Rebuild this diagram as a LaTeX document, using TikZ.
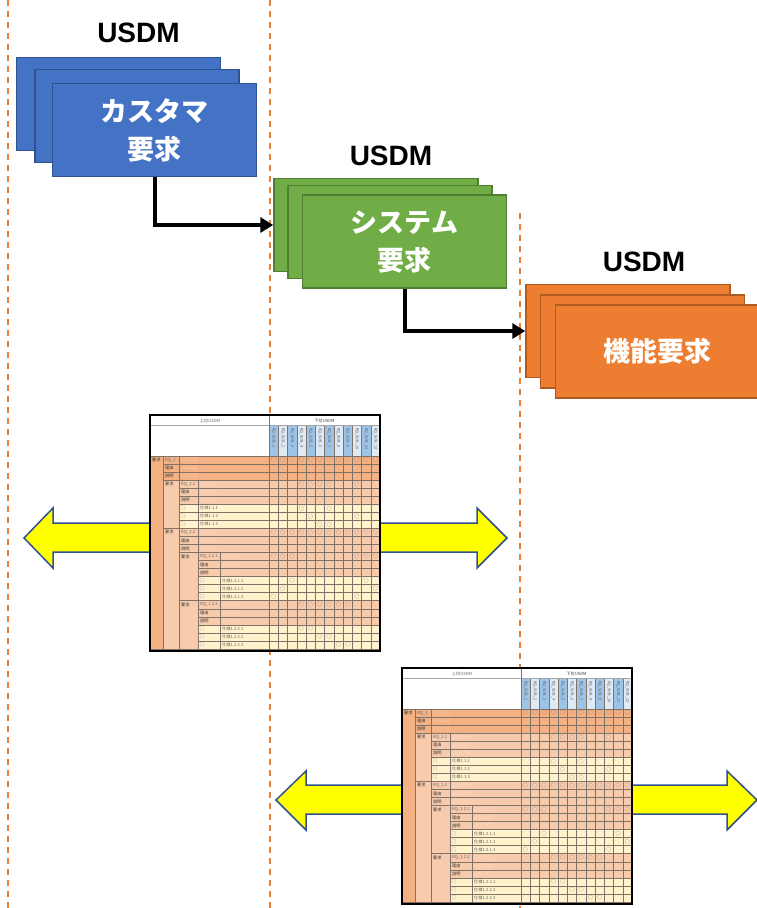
\documentclass[tikz,border=0pt]{standalone}
\usepackage{fontspec}
\setmainfont{Noto Sans CJK JP}
\newfontfamily\usdmfont{Liberation Sans}
\usetikzlibrary{arrows.meta}
\definecolor{dashc}{HTML}{ED7D31}
\definecolor{blueF}{HTML}{4472C4}
\definecolor{blueD}{HTML}{2F528F}
\definecolor{greenF}{HTML}{70AD47}
\definecolor{greenD}{HTML}{507E32}
\definecolor{orangeF}{HTML}{ED7D31}
\definecolor{orangeD}{HTML}{AE5A21}
\definecolor{lvA}{HTML}{F4B183}
\definecolor{lvB}{HTML}{F8CBAD}
\definecolor{lvY}{HTML}{FFF2CC}
\definecolor{hdM}{HTML}{9DC3E6}
\definecolor{hdL}{HTML}{DEEBF7}
\definecolor{yel}{HTML}{FFFF00}
\definecolor{tl}{HTML}{7F7367}
\definecolor{symc}{HTML}{FFF4EC}
\colorlet{labc}{black!80}
\colorlet{idc}{black!60}
\tikzset{
  stackbox/.style={rectangle, minimum width=204pt, minimum height=93pt, line width=1.5pt, inner sep=0pt},
  bluebox/.style={stackbox, fill=blueF, draw=blueD},
  greenbox/.style={stackbox, fill=greenF, draw=greenD},
  orangebox/.style={stackbox, fill=orangeF, draw=orangeD},
  boxtext/.style={text=white, font=\fontsize{27}{38}\selectfont\bfseries, align=center},
  usdmlabel/.style={font=\usdmfont\fontsize{28}{30}\selectfont\bfseries, inner sep=0pt},
  conn/.style={line width=4pt, draw=black, -{Triangle[length=13pt,width=15pt]}},
  guide/.style={draw=dashc, line width=1.5pt, dash pattern=on 6pt off 5pt},
  blockarrow/.style={fill=yel, draw=blueD, line width=1.5pt, line join=miter},
  tframe/.style={draw=black, line width=2pt},
  ttx/.style={font=\fontsize{4.2}{5}\selectfont, inner sep=0pt, anchor=west},
  circ/.style={font=\fontsize{5}{5}\selectfont, inner sep=0pt, anchor=center, text=black!60},
  tline/.style={draw=tl, line width=0.5pt},
}
\newcommand\usdmtable[2]{%
\begin{scope}[shift={#2}]
  \fill[white] (0,0) rectangle (230,41);
  \node[ttx, anchor=center, text=black!60] (#1-h1) at (60,6) {上位USDM};
  \node[ttx, anchor=center, text=black!75] (#1-h2) at (174.5,6) {下位USDM};
  \foreach \i in {1,...,12} {
    \pgfmathsetmacro\xa{119+(\i-1)*9.25}
    \pgfmathtruncatemacro\odd{mod(\i,2)}
    \ifnum\odd=1 \def\hc{hdM}\else\def\hc{hdL}\fi
    \fill[\hc] (\xa,11) rectangle ({\xa+9.25},41);
    \node[ttx, rotate=-90, text=black!65, font=\fontsize{3.8}{4}\selectfont] (#1-s\i) at ({\xa+4.6},13) {RQ\_SUB\_\i};
  }
  \begin{scope}[shift={(0,41)}, y=-8.04pt]
    \fill[lvA] (0,0) rectangle (230,3);
    \fill[lvA] (0,3) rectangle (13,24);
    \fill[lvB] (13,3) rectangle (29,24);
    \fill[lvB] (29,3) rectangle (230,6);
    \fill[lvY] (29,6) rectangle (230,9);
    \fill[lvB] (29,9) rectangle (230,12);
    \fill[lvB] (29,12) rectangle (48,24);
    \fill[lvB] (48,12) rectangle (230,15);
    \fill[lvY] (48,15) rectangle (230,18);
    \fill[lvB] (48,18) rectangle (230,21);
    \fill[lvY] (48,21) rectangle (230,24);
    \foreach \k/\xs in {0/0,1/13,2/13,3/13,4/29,5/29,6/29,7/29,8/29,9/13,10/29,11/29,12/29,
                        13/48,14/48,15/48,16/48,17/48,18/29,19/48,20/48,21/48,22/48,23/48,24/0}
      \draw[tline] (\xs,\k) -- (230,\k);
    \draw[tline] (13,0) -- (13,24);
    \draw[tline] (29,0) -- (29,24);
    \draw[tline] (48,3) -- (48,24);
    \draw[tline] (70,12) -- (70,24);
    \foreach \rw/\xp/\tx/\cl in {
      1/1/要求/labc, 1/14/RQ\_1/idc, 1/30/○○○○/symc,
      2/14/理由/labc, 2/30/△△△△/symc,
      3/14/説明/labc, 3/30/○○○○/symc,
      4/14/要求/labc, 4/30/RQ\_1.1/idc, 4/49/○○○○/symc,
      5/30/理由/labc, 5/49/△△△△/symc,
      6/30/説明/labc, 6/49/○○○○/symc,
      7/30/□/idc, 7/49/仕様1.1.1/idc,
      8/30/□/idc, 8/49/仕様1.1.2/idc,
      9/30/□/idc, 9/49/仕様1.1.3/idc,
      10/14/要求/labc, 10/30/RQ\_1.2/idc, 10/49/○○○○/symc,
      11/30/理由/labc, 11/49/△△△△/symc,
      12/30/説明/labc, 12/49/○○○○/symc,
      13/30/要求/labc, 13/49/RQ\_1.2.1/idc, 13/71/○○○○/symc,
      14/49/理由/labc, 14/71/△△△△/symc,
      15/49/説明/labc, 15/71/○○○○/symc,
      16/49/□/idc, 16/71/仕様1.2.1.1/idc,
      17/49/□/idc, 17/71/仕様1.2.1.2/idc,
      18/49/□/idc, 18/71/仕様1.2.1.3/idc,
      19/30/要求/labc, 19/49/RQ\_1.2.2/idc, 19/71/○○○○/symc,
      20/49/理由/labc, 20/71/△△△△/symc,
      21/49/説明/labc, 21/71/○○○○/symc,
      22/49/□/idc, 22/71/仕様1.2.2.1/idc,
      23/49/□/idc, 23/71/仕様1.2.2.2/idc,
      24/49/□/idc, 24/71/仕様1.2.2.3/idc}
      \node[ttx, text=\cl] (#1-\rw-\xp) at ({\xp+1},{\rw-0.5}) {\tx};
    \foreach \rw/\cs in {1/{1,2,3,4,5,6,7,8,9,10,11,12}, 4/{4,5,6,7,10}, 7/{4,7}, 8/{5,10}, 9/{6,7},
                         10/{1,2,3,4,5,6,7,8,9,10,11,12}, 13/{1,2,3,10,11,12}, 16/{3,11}, 17/{2,12}, 18/{1,10},
                         19/{4,5,6,7,8,9}, 22/{4,5}, 23/{6,7}, 24/{8,9}}
      \foreach \cc in \cs
        \node[circ] (#1-o\rw-\cc) at ({119+(\cc-0.5)*9.25},{\rw-0.5}) {○};
  \end{scope}
  \draw[draw=black!35, line width=1.5pt] (0,10.5) -- (230,10.5);
  \draw[tline] (119,0) -- (119,234);
  \foreach \i in {1,...,11}
    \draw[tline] ({119+\i*9.25},11) -- ({119+\i*9.25},234);
  \draw[tframe] (0,0) rectangle (230,235.5);
\end{scope}}
\begin{document}
\begin{tikzpicture}[x=1pt,y=-1pt]
\useasboundingbox (0,0) rectangle (756,908);
% guide lines
\coordinate (g1t) at (8,0);   \coordinate (g1b) at (8,908);
\coordinate (g2t) at (270,0); \coordinate (g2b) at (270,908);
\coordinate (g3t) at (520,213); \coordinate (g3b) at (520,908);
\draw[guide] (g1t) -- (g1b);
\draw[guide] (g2t) -- (g2b);
\draw[guide] (g3t) -- (g3b);
% stacks
\node[usdmlabel] (usdm1) at (138.5,33) {USDM};
\node[bluebox] (blueA) at (118.5,104) {};
\node[bluebox] (blueB) at (137,116) {};
\node[bluebox, boxtext] (blueC) at (154.5,130) {カスタマ\\要求};
\node[usdmlabel] (usdm2) at (391,156) {USDM};
\node[greenbox] (greenA) at (376,225) {};
\node[greenbox] (greenB) at (390,232) {};
\node[greenbox, boxtext] (greenC) at (404.5,241.5) {システム\\要求};
\node[usdmlabel] (usdm3) at (644,262) {USDM};
\node[orangebox] (orangeA) at (628,331) {};
\node[orangebox] (orangeB) at (642.5,341.5) {};
\node[orangebox, boxtext] (orangeC) at (657.5,351.5) {機能要求};
\draw[conn] (blueC.south) |- (greenA.west);
\draw[conn] (greenC.south) |- (orangeA.west);
% block arrows
\draw[blockarrow] (152,523) -- (53,523) -- (53,508) -- (24,538) -- (53,568) -- (53,552) -- (152,552) -- cycle;
\draw[blockarrow] (378,523) -- (477,523) -- (477,508) -- (507,538) -- (477,568) -- (477,552) -- (378,552) -- cycle;
\draw[blockarrow] (404,785) -- (306,785) -- (306,771) -- (276,800) -- (306,830) -- (306,814) -- (404,814) -- cycle;
\draw[blockarrow] (631,785) -- (727,785) -- (727,771) -- (757,800) -- (727,830) -- (727,814) -- (631,814) -- cycle;
% tables
\usdmtable{tabA}{(150,415)}
\usdmtable{tabB}{(402,668)}
\end{tikzpicture}
\end{document}
